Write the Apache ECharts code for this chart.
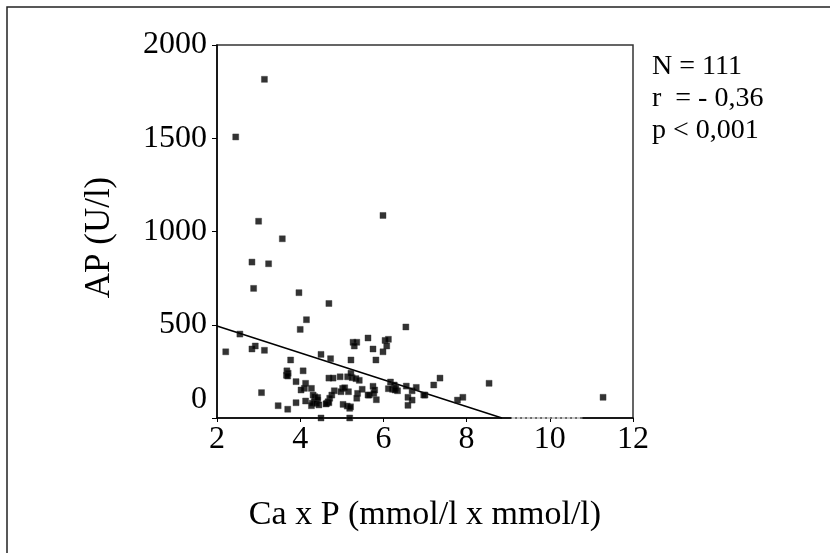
<!DOCTYPE html>
<html>
<head>
<meta charset="utf-8">
<script src="https://cdn.jsdelivr.net/npm/echarts@6/dist/echarts.min.js"></script>
<style>html,body{margin:0;padding:0;background:#fff;}#c{width:830px;height:553px;}</style>
</head>
<body>
<div id="c"></div>
<script>
// Ca x P values (x) and AP values (y)
var caP = [3.14,2.45,3.00,5.99,3.57,2.84,3.24,2.88,3.97,4.69,
  4.15,4.00,6.54,2.55,2.21,2.84,2.92,3.14,5.63,5.27,
  5.36,5.30,6.04,6.12,6.08,5.99,5.75,5.82,4.73,5.22,
  4.69,4.79,4.96,5.14,5.25,5.34,5.42,5.22,5.75,6.17,
  6.26,6.22,6.12,6.34,6.55,6.69,6.79,7.00,6.97,6.59,
  6.69,6.59,7.21,7.36,5.79,5.63,5.66,5.77,5.83,5.49,
  5.38,5.36,5.02,5.16,4.98,5.07,4.82,4.76,4.71,4.67,
  4.64,4.69,5.03,5.13,5.19,5.19,4.50,3.77,3.68,3.71,
  3.67,3.70,4.07,3.90,4.13,4.10,4.02,4.27,3.07,4.31,
  4.35,4.42,4.34,4.27,4.29,4.39,4.13,3.90,3.47,3.70,
  4.50,8.54,7.78,7.91,11.28,4.42,4.62,6.30,4.45,5.21,6.28];
var ap = [1816,1507,1055,1086,961,836,827,695,672,614,
  527,475,488,450,355,370,386,363,429,406,
  406,386,416,422,386,355,370,311,318,311,
  214,214,221,221,216,211,202,240,170,193,
  177,154,157,146,171,146,164,123,123,111,
  96,68,177,214,150,123,123,132,98,154,
  132,106,159,141,141,162,146,123,106,87,
  79,82,73,64,52,0,341,311,253,240,
  229,225,253,195,186,159,150,159,136,123,
  114,96,87,66,79,79,91,82,66,47,
  0,186,96,111,111,110,75,160,70,60,150];
// regression line end points
var fitX = [2, 8.85];
var fitY = [493, 0];
// light grey stretch on the x axis
var greyX = [9.08, 10.78];
var greyY = [0, 0];
var xTicks = [2, 4, 6, 8, 10, 12];
var yTicks = [0, 500, 1000, 1500, 2000];
var statLines = ['N = 111', 'r  = - 0,36', 'p < 0,001'];

var FONT = "'Liberation Serif', 'Times New Roman', serif";
var pts = caP.map(function (x, i) { return [x, ap[i]]; });
var fit = fitX.map(function (x, i) { return [x, fitY[i]]; });
var grey = greyX.map(function (x, i) { return [x, greyY[i]]; });

var chart = echarts.init(document.getElementById('c'), null, {renderer: 'canvas'});
chart.setOption({
  animation: false,
  backgroundColor: '#fff',
  grid: {left: 217, top: 45, width: 416, height: 373, show: true, borderColor: '#333', borderWidth: 1.5, containLabel: false},
  xAxis: {
    type: 'value', min: xTicks[0], max: xTicks[xTicks.length - 1], interval: 2,
    name: 'Ca x P (mmol/l x mmol/l)', nameLocation: 'middle', nameGap: 80,
    nameTextStyle: {fontFamily: FONT, fontSize: 34, color: '#000'},
    axisLine: {show: true, lineStyle: {color: '#000', width: 1.5}},
    axisTick: {show: true, inside: false, length: 4, lineStyle: {color: '#000'}},
    splitLine: {show: false},
    axisLabel: {fontFamily: FONT, fontSize: 32, color: '#000', margin: 6}
  },
  yAxis: {
    type: 'value', min: yTicks[0], max: yTicks[yTicks.length - 1], interval: 500,
    name: 'AP (U/l)', nameLocation: 'middle', nameGap: 100,
    nameTextStyle: {fontFamily: FONT, fontSize: 35, color: '#000', padding: [0, 12, 0, 0]},
    axisLine: {show: true, lineStyle: {color: '#000', width: 1.5}},
    axisTick: {show: true, inside: false, length: 5, lineStyle: {color: '#000'}},
    splitLine: {show: false},
    axisLabel: {
      fontFamily: FONT, fontSize: 32, color: '#000', margin: 10,
      formatter: function (v) { return v === 0 ? '{z|0}' : String(v); },
      rich: {z: {fontFamily: FONT, fontSize: 32, color: '#000', padding: [0, 0, 36, 0]}}
    }
  },
  series: [
    {type: 'scatter', data: pts, symbol: 'rect', symbolSize: 6,
     itemStyle: {color: '#000', borderColor: '#333', borderWidth: 0.5}, z: 3},
    {type: 'line', data: fit, symbol: 'none', clip: false,
     lineStyle: {color: '#000', width: 1.5}, z: 2},
    {type: 'line', data: grey, symbol: 'none', clip: false,
     lineStyle: {color: '#c8c8c8', width: 2, type: [4, 1]}, z: 4}
  ],
  graphic: [
    {type: 'rect', shape: {x: 7, y: 7, width: 900, height: 700}, style: {fill: null, stroke: '#222', lineWidth: 1.5}, silent: true}
  ].concat(statLines.map(function (t, i) {
    return {type: 'text', x: 652, y: 53 + i * 32, style: {text: t, font: '28px ' + FONT, fill: '#000', textVerticalAlign: 'top'}, silent: true};
  }))
});
</script>
</body>
</html>
